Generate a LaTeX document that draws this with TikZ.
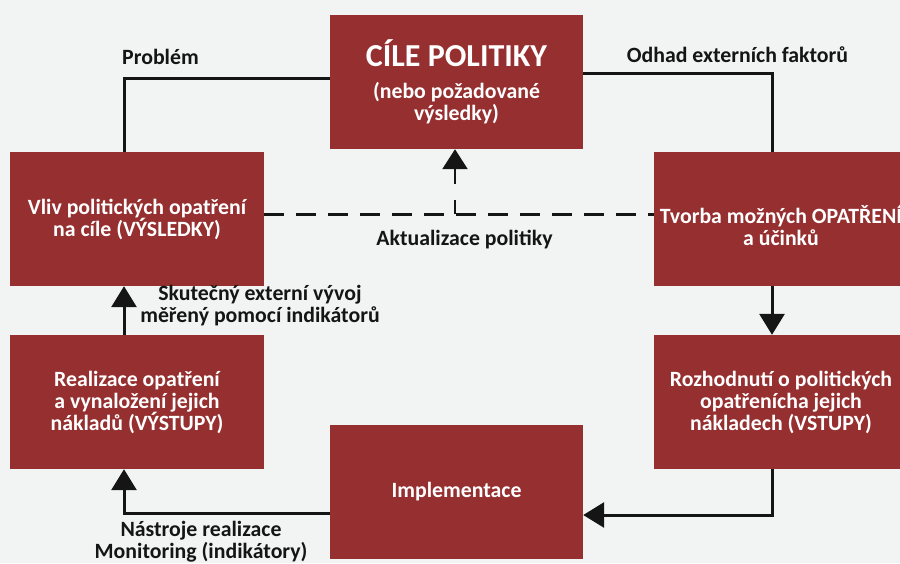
\documentclass[tikz,border=0pt]{standalone}
\usepackage{fontspec}
\setmainfont{Carlito}
\usetikzlibrary{arrows.meta}
\definecolor{bg}{HTML}{F2F3F3}
\definecolor{boxred}{HTML}{962F30}
\definecolor{ink}{HTML}{151515}
\tikzset{
  boxtext/.style={inner sep=0pt, text=white, align=center, font=\bfseries\fontsize{21.8}{22}\selectfont},
  redbox/.style={boxtext, rectangle, fill=boxred, draw=none, minimum width=254pt, minimum height=134pt},
  conn/.style={draw=ink, line width=3pt},
  arr/.style={conn, -{Triangle[width=25pt,length=21pt]}},
  dashconn/.style={draw=ink, line width=3pt, dash pattern=on 20pt off 12pt},
  lbl/.style={text=ink, align=center, inner sep=0pt, font=\bfseries\fontsize{21.8}{22}\selectfont}
}
\begin{document}
\begin{tikzpicture}[x=1pt,y=-1pt]
\fill[bg] (0,0) rectangle (900,563);
\useasboundingbox (0,0) rectangle (900,563);
% boxes
\node[redbox, minimum width=253pt] (cile) at (456.5,82) {{\fontsize{32}{32}\selectfont CÍLE POLITIKY}\\[10pt](nebo požadované\\výsledky)};
\node[redbox] (vliv) at (137,219) {Vliv politických opatření\\na cíle (VÝSLEDKY)};
\node[redbox] (tvorba) at (781,219) {};
\node[boxtext] (tvorbaT) at ([yshift=-6pt]tvorba.center) {Tvorba možných OPATŘENÍ\\a účinků};
\node[redbox] (real) at (137,402) {Realizace opatření\\a vynaložení jejich\\nákladů (VÝSTUPY)};
\node[redbox] (rozh) at (781,402) {Rozhodnutí o politických\\opatřenícha jejich\\nákladech (VSTUPY)};
\node[redbox, minimum width=253pt] (impl) at (456.5,492) {Implementace};
% connector helper coordinates
\coordinate (pA) at ([yshift=4pt]cile.west);
\coordinate (pB) at ([xshift=-13pt]vliv.north);
\coordinate (oA) at ([yshift=9pt]cile.east);
\coordinate (oB) at ([xshift=-9pt]tvorba.north);
\coordinate (tS) at ([xshift=-9pt]tvorba.south);
\coordinate (rN) at ([xshift=-9pt]rozh.north);
\coordinate (rS) at ([xshift=-9pt]rozh.south);
\coordinate (iE) at ([yshift=-23pt]impl.east);
\coordinate (iW) at ([yshift=-21pt]impl.west);
\coordinate (reS) at ([xshift=-13pt]real.south);
\coordinate (reN) at ([xshift=-13pt]real.north);
\coordinate (vS) at ([xshift=-13pt]vliv.south);
\coordinate (dL) at ([yshift=5pt]vliv.east);
\coordinate (dR) at ([yshift=5pt]tvorba.west);
\coordinate (dM) at ([xshift=-1.5pt]cile.south |- dL);
\coordinate (cS) at ([xshift=-1.5pt]cile.south);
% connectors
\draw[conn] (pA) -| (pB);
\draw[conn] (oA) -| (oB);
\draw[arr] (tS) -- (rN);
\draw[arr] (rS) |- (iE);
\draw[arr] (iW) -| (reS);
\draw[arr] (reN) -- (vS);
\draw[dashconn] (dL) -- (dR);
\draw[dashconn, line width=2.5pt, -{Triangle[width=25pt,length=20pt]}, dash pattern=on 14pt off 16pt on 40pt] (dM) -- (cS);
% labels
\node[lbl] (lprob) at (160.5,57) {Problém};
\node[lbl] (lodh) at (737.5,55) {Odhad externích faktorů};
\node[lbl] (lakt) at (464.5,240) {Aktualizace politiky};
\node[lbl] (lsku) at (260,306) {Skutečný externí vývoj\\měřený pomocí indikátorů};
\node[lbl] (lnas) at (201,542) {Nástroje realizace\\Monitoring (indikátory)};
\end{tikzpicture}
\end{document}
